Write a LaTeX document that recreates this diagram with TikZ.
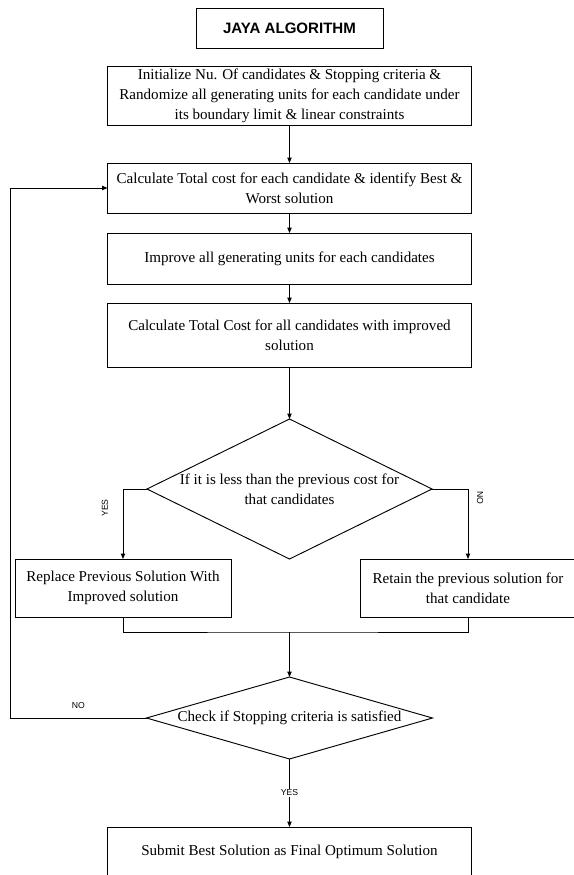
\documentclass[tikz,border=0pt]{standalone}
\usepackage{fontspec}
\setmainfont{Liberation Serif}
\setsansfont{Liberation Sans}
\usetikzlibrary{positioning,arrows.meta,shapes.geometric}

\begin{document}
\begin{tikzpicture}[x=0.75pt,y=-0.75pt,
  font=\fontsize{11.3}{15}\selectfont,
  blk/.style={draw,line width=0.7pt,align=center,inner xsep=2pt,inner ysep=1pt,
              outer sep=0pt,minimum width=273pt},
  sideblk/.style={blk,minimum width=162pt,minimum height=43.5pt,anchor=north},
  dec/.style={draw,line width=0.7pt,diamond,align=center,inner sep=0pt,outer sep=0pt},
  lbl/.style={font=\sffamily\fontsize{6.5}{7}\selectfont,inner sep=1pt},
  a/.style={-{Triangle[length=4pt,width=3.2pt]},line width=0.7pt}]
\useasboundingbox (0,0) rectangle (574,875);
\node[draw,line width=0.7pt,outer sep=0pt,minimum width=140.25pt,minimum height=30pt,
      font=\sffamily\bfseries\fontsize{11.3}{13}\selectfont] (title) at (289.5,28) {JAYA ALGORITHM};
\node[blk,minimum height=44.25pt,below=13.5pt of title] (init) {Initialize Nu. Of candidates \& Stopping criteria \&\\Randomize all generating units for each candidate under\\its boundary limit \& linear constraints};
\node[blk,minimum height=37.5pt,below=28.5pt of init] (calc1) {Calculate Total cost for each candidate \& identify Best \&\\Worst solution};
\node[blk,minimum height=38.25pt,below=15pt of calc1] (impr) {Improve all generating units for each candidates};
\node[blk,minimum height=48pt,below=14.25pt of impr] (calc2) {Calculate Total Cost for all candidates with improved\\solution};
\node[dec,aspect=2.04,minimum width=213.75pt,minimum height=105pt,below=39pt of calc2] (dec1) {If it is less than the previous cost for\\that candidates};
\node[sideblk] (repl) at (123,559) {Replace Previous Solution With\\Improved solution};
\node[sideblk] (retain) at (468,559) {Retain the previous solution for\\that candidate};
\coordinate (mrg) at (289.5,632);
\coordinate (lp) at (10,0);
\node[dec,aspect=3.49,minimum width=214.5pt,minimum height=61.5pt,below=33.75pt of mrg] (dec2) {Check if Stopping criteria is satisfied};
\node[blk,minimum height=37.5pt,below=51pt of dec2] (final) {Submit Best Solution as Final Optimum Solution};

\draw[a] (init) -- (calc1);
\draw[a] (calc1) -- (impr);
\draw[a] (impr) -- (calc2);
\draw[a] (calc2) -- (dec1);
\draw[a] (dec1.west) -| node[lbl,pos=0.636,xshift=-13.5pt,rotate=90] {YES} (repl.north);
\draw[a] (dec1.east) -| node[lbl,pos=0.565,xshift=9pt,rotate=-90] {NO} (retain.north);
\draw[line width=0.7pt] (repl.south) |- (mrg) -| (retain.south);
\draw[a] (mrg) -- (dec2);
\draw[a] (dec2) -- node[lbl,fill=white] {YES} (final);
\draw[a] (dec2.west) -- node[lbl,above=6pt] {NO} (dec2.west -| lp) |- (calc1.west);
\end{tikzpicture}
\end{document}
